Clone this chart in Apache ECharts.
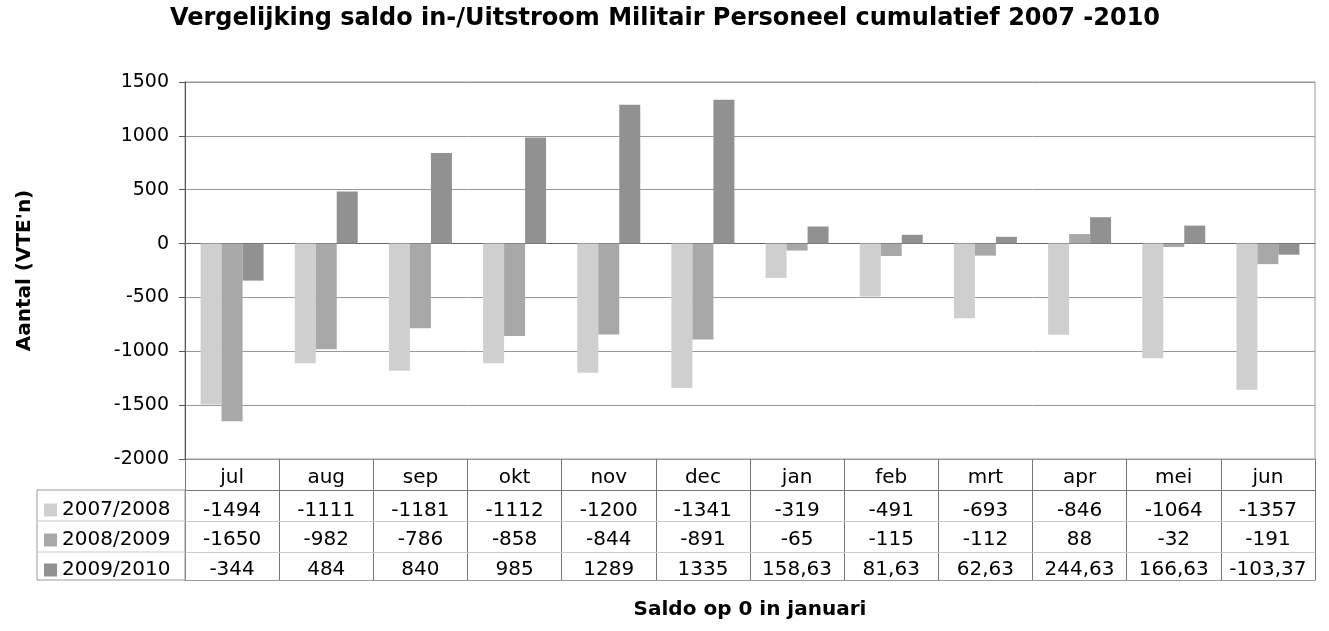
<!DOCTYPE html>
<html>
<head>
<meta charset="utf-8">
<script src="https://cdn.jsdelivr.net/npm/echarts@6/dist/echarts.min.js"></script>
<style>
html,body{margin:0;padding:0;background:#fff;}
#c{width:1329px;height:631px;}
</style>
</head>
<body>
<div id="c"></div>
<script>
// ---- data ----
const months = ['jul','aug','sep','okt','nov','dec','jan','feb','mrt','apr','mei','jun'];
const seriesNames = ['2007/2008','2008/2009','2009/2010'];
const s2007 = [-1494,-1111,-1181,-1112,-1200,-1341,-319,-491,-693,-846,-1064,-1357];
const s2008 = [-1650,-982,-786,-858,-844,-891,-65,-115,-112,88,-32,-191];
const s2009 = [-344,484,840,985,1289,1335,158.63,81.63,62.63,244.63,166.63,-103.37];
const yTicks = {min:-2000, max:1500, interval:500};

// ---- layout ----
const FONT = 'DejaVu Sans';
const W = 1329, H = 631;
const G = {left:185, right:1315, top:82, bottom:459};
const ROWS = [459, 490, 521, 552, 580];
const TABLE_LEFT = 37;
const colors = ['#cfcfcf','#a8a8a8','#919191'];

const fmt = v => String(v).replace('.', ',');
const allSeries = [s2007, s2008, s2009];

const xAxes = [{
  type:'category', data: months, gridIndex:0, position:'bottom',
  axisLine:{show:true, lineStyle:{color:'#666', width:1}},
  axisTick:{show:false},
  axisLabel:{interval:0, color:'#000', fontFamily:FONT, fontSize:20, lineHeight:20, margin:9},
  splitLine:{show:false}
}];
const rowLineColors = ['#777','#ccc','#ccc'];
const rowMargins = [11, 9, 8];
allSeries.forEach((s, i) => {
  xAxes.push({
    type:'category', data: s.map(fmt), gridIndex:0, position:'bottom',
    offset: ROWS[i+1]-ROWS[0],
    axisLine:{show:true, lineStyle:{color:rowLineColors[i], width:1}},
    axisTick:{show:false},
    axisLabel:{interval:0, color:'#000', fontFamily:FONT, fontSize:20, lineHeight:20, margin:rowMargins[i]},
    splitLine:{show:false}
  });
});
xAxes.push({
  type:'category', data: months, gridIndex:0, position:'bottom',
  offset: ROWS[4]-ROWS[0],
  axisLine:{show:true, lineStyle:{color:'#999', width:1}},
  axisTick:{show:false},
  axisLabel:{show:false},
  name:'Saldo op 0 in januari', nameLocation:'middle', nameGap:20,
  nameTextStyle:{fontFamily:FONT, fontWeight:'bold', fontSize:20, color:'#000'}
});
// table grid: vertical column separators
xAxes.push({
  type:'category', data: months, gridIndex:1,
  axisLine:{show:false}, axisTick:{show:false}, axisLabel:{show:false},
  splitLine:{show:true, interval:0, lineStyle:{color:'#777', width:1}}
});

const option = {
  backgroundColor:'#fff',
  animation:false,
  color: colors,
  title:{
    text:'Vergelijking saldo in-/Uitstroom Militair Personeel cumulatief 2007 -2010',
    left: 660, textAlign:'center', top:2,
    textStyle:{fontFamily:FONT, fontWeight:'bold', fontSize:24, color:'#000'}
  },
  legend:{
    data: seriesNames, orient:'vertical', left:44, top:500, padding:0,
    itemWidth:13, itemHeight:13, itemGap:10, icon:'rect',
    textStyle:{fontFamily:FONT, fontSize:20, lineHeight:20, color:'#000'},
    selectedMode:false
  },
  grid:[
    {left:G.left, right:W-G.right, top:G.top, bottom:H-G.bottom, show:true, borderColor:'#999', borderWidth:1},
    {left:G.left, right:W-G.right, top:ROWS[0], bottom:H-ROWS[4], show:false}
  ],
  xAxis: xAxes,
  yAxis:[{
    type:'value', min:yTicks.min, max:yTicks.max, interval:yTicks.interval, gridIndex:0,
    axisLine:{show:true, lineStyle:{color:'#555'}},
    axisTick:{show:true, length:6, lineStyle:{color:'#555'}},
    axisLabel:{color:'#000', fontFamily:FONT, fontSize:19, margin:16, formatter: v => String(v)},
    splitLine:{show:true, lineStyle:{color:'#999'}},
    name:"Aantal (VTE'n)", nameLocation:'middle', nameRotate:90, nameGap:150,
    nameTextStyle:{fontFamily:FONT, fontWeight:'bold', fontSize:20, color:'#000'}
  },{
    type:'value', gridIndex:1, show:false, splitLine:{show:false}
  }],
  graphic:[
    {type:'rect', shape:{x:TABLE_LEFT, y:ROWS[1], width:G.left-TABLE_LEFT, height:ROWS[4]-ROWS[1]},
     style:{fill:'none', stroke:'#999', lineWidth:1}, z:10},
    {type:'line', shape:{x1:TABLE_LEFT, y1:ROWS[2], x2:G.left, y2:ROWS[2]}, style:{stroke:'#ccc', lineWidth:1}, z:10},
    {type:'line', shape:{x1:TABLE_LEFT, y1:ROWS[3], x2:G.left, y2:ROWS[3]}, style:{stroke:'#ccc', lineWidth:1}, z:10}
  ],
  series: allSeries.map((s, i) => ({
    name: seriesNames[i], type:'bar', data: s, xAxisIndex:0, yAxisIndex:0,
    barWidth:21, barGap:'0%',
    itemStyle:{color:colors[i]}
  }))
};
const chart = echarts.init(document.getElementById('c'), null, {renderer:'canvas'});
chart.setOption(option);
</script>
</body>
</html>
